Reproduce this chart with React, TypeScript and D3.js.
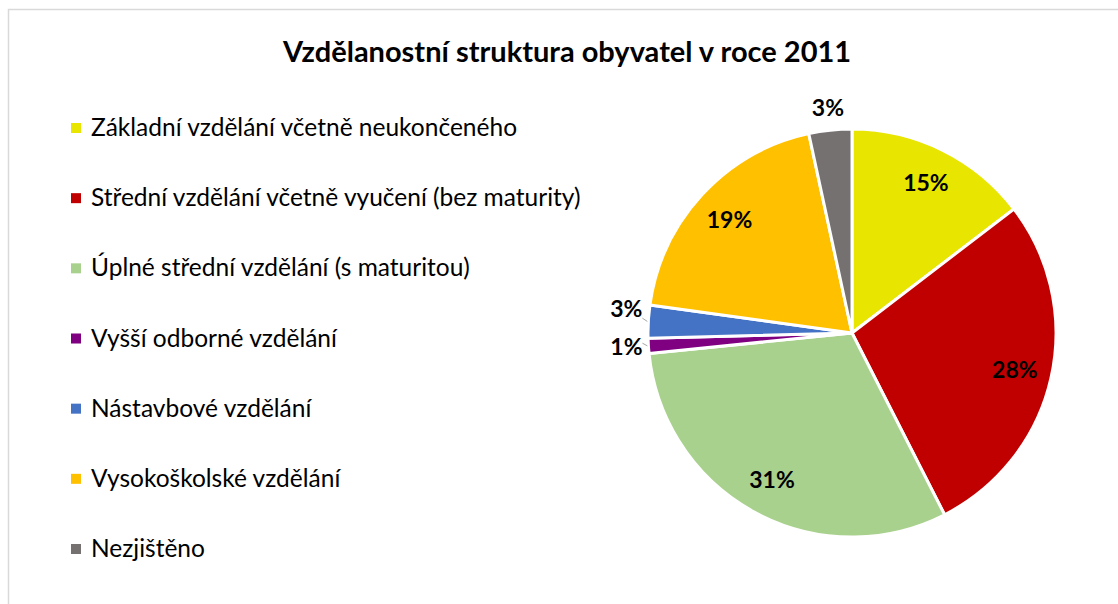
import React from "react";
import * as d3 from "d3";

const categories = [
  "Základní vzdělání včetně neukončeného",
  "Střední vzdělání včetně vyučení (bez maturity)",
  "Úplné střední vzdělání (s maturitou)",
  "Vyšší odborné vzdělání",
  "Nástavbové vzdělání",
  "Vysokoškolské vzdělání",
  "Nezjištěno",
];
const values = [14.6, 27.9, 30.9, 1.2, 2.6, 19.4, 3.4];
const labels = ["15%", "28%", "31%", "1%", "3%", "19%", "3%"];
const colors = ["#e8e500", "#c00000", "#a9d18e", "#7f0080", "#4472c4", "#ffc000", "#767171"];
// which labels sit outside the pie (small slices)
const outside = [false, false, false, true, true, false, true];
// tiny leader lines Excel draws for the two crowded labels
const leader = [false, false, false, true, true, false, false];

const font = "Lato, 'Open Sans', sans-serif";

export default function App() {
  const ref = React.useRef<SVGSVGElement>(null);

  React.useEffect(() => {
    const width = 1118;
    const height = 604;
    const cx = 852;
    const cy = 333;
    const radius = 204;

    const svg = d3.select(ref.current).attr("width", width).attr("height", height);
    svg.selectAll("*").remove();

    // chart frame
    svg.append("rect")
      .attr("x", 8.5).attr("y", 9.5)
      .attr("width", width + 20).attr("height", height + 20)
      .attr("fill", "white")
      .attr("stroke", "#d9d9d9")
      .attr("stroke-width", 1.5);

    svg.append("text")
      .attr("x", 567)
      .attr("y", 62)
      .attr("text-anchor", "middle")
      .attr("font-family", font)
      .attr("font-weight", "bold")
      .attr("font-size", 29)
      .attr("fill", "#000")
      .text("Vzdělanostní struktura obyvatel v roce 2011");

    // legend
    const rowY = d3.scalePoint<number>().domain(d3.range(categories.length)).range([128, 549]);
    const legend = svg.append("g")
      .selectAll("g")
      .data(categories)
      .join("g")
      .attr("transform", (d, i) => `translate(71,${rowY(i)})`);
    legend.append("rect")
      .attr("x", 0).attr("y", -5)
      .attr("width", 10).attr("height", 10)
      .attr("fill", (d, i) => colors[i]);
    legend.append("text")
      .attr("x", 20)
      .attr("y", 8)
      .attr("font-family", font)
      .attr("font-size", 24.5)
      .attr("fill", "#000")
      .text((d) => d);

    // pie
    const pie = d3.pie<number>().sort(null).value((d) => d);
    const arcs = pie(values);
    const arc = d3.arc<d3.PieArcDatum<number>>().innerRadius(0).outerRadius(radius);
    const g = svg.append("g").attr("transform", `translate(${cx},${cy})`);
    g.selectAll("path")
      .data(arcs)
      .join("path")
      .attr("d", arc)
      .attr("fill", (d, i) => colors[i])
      .attr("stroke", "white")
      .attr("stroke-width", 3)
      .attr("stroke-linejoin", "round");

    // leader ticks
    const l0 = d3.arc<d3.PieArcDatum<number>>().innerRadius(radius + 1).outerRadius(radius + 1);
    const l1 = d3.arc<d3.PieArcDatum<number>>().innerRadius(radius + 6).outerRadius(radius + 6);
    g.selectAll("line.leader")
      .data(arcs.filter((d, i) => leader[i]))
      .join("line")
      .attr("class", "leader")
      .attr("x1", (d) => l0.centroid(d)[0])
      .attr("y1", (d) => l0.centroid(d)[1])
      .attr("x2", (d) => l1.centroid(d)[0])
      .attr("y2", (d) => l1.centroid(d)[1] - 3)
      .attr("stroke", "#a6a6a6")
      .attr("stroke-width", 1);

    const inArc = d3.arc<d3.PieArcDatum<number>>().innerRadius(167).outerRadius(167);
    const outArc = d3.arc<d3.PieArcDatum<number>>().innerRadius(226).outerRadius(226);
    // Excel nudges the blue label up to avoid the 1% label
    const nudge = [0, 0, 0, 0, -11, 0, 0];
    g.selectAll("text.lbl")
      .data(arcs)
      .join("text")
      .attr("class", "lbl")
      .attr("transform", (d, i) => {
        const [x, y] = (outside[i] ? outArc : inArc).centroid(d);
        return `translate(${x},${y + nudge[i]})`;
      })
      .attr("text-anchor", "middle")
      .attr("dy", "0.35em")
      .attr("font-family", font)
      .attr("font-weight", "bold")
      .attr("font-size", 23)
      .attr("fill", "#000")
      .text((d, i) => labels[i]);
  }, []);

  return <svg ref={ref} style={{ position: "absolute", left: 0, top: 0 }}></svg>;
}
